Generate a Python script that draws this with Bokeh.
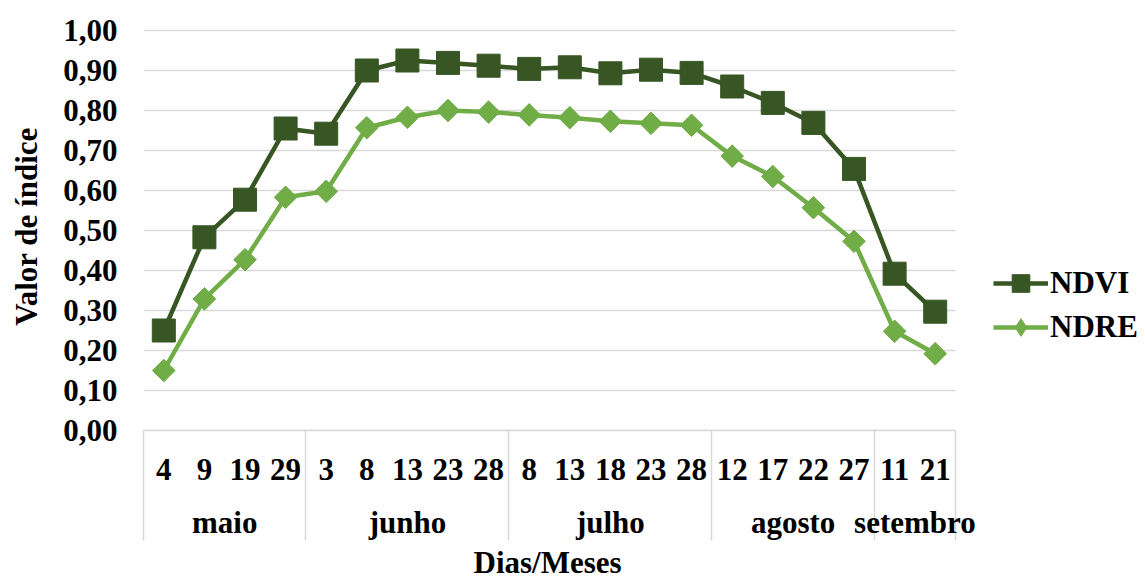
import numpy as np
from bokeh.plotting import figure
from bokeh.models import (Range1d, FixedTicker, LinearAxis, Legend, LegendItem,
                          ColumnDataSource)
from bokeh.embed import file_html
from bokeh.resources import INLINE

# ---- data ----
days = ["4", "9", "19", "29", "3", "8", "13", "23", "28", "8", "13", "18", "23", "28",
        "12", "17", "22", "27", "11", "21"]
day_months = ["maio", "maio", "maio", "maio",
              "junho", "junho", "junho", "junho", "junho",
              "julho", "julho", "julho", "julho", "julho",
              "agosto", "agosto", "agosto", "agosto",
              "setembro", "setembro"]
months = ["maio", "junho", "julho", "agosto", "setembro"]
ndvi = [0.250, 0.483, 0.577, 0.755, 0.742, 0.900, 0.925, 0.919, 0.912, 0.904,
        0.908, 0.893, 0.902, 0.894, 0.860, 0.819, 0.769, 0.654, 0.392, 0.297]
ndre = [0.150, 0.329, 0.427, 0.583, 0.598, 0.757, 0.783, 0.800, 0.796, 0.789,
        0.782, 0.773, 0.768, 0.763, 0.686, 0.635, 0.557, 0.473, 0.248, 0.192]
y_ticks = [0.0, 0.1, 0.2, 0.3, 0.4, 0.5, 0.6, 0.7, 0.8, 0.9, 1.0]
y_tick_labels = ["0,00", "0,10", "0,20", "0,30", "0,40", "0,50", "0,60", "0,70",
                 "0,80", "0,90", "1,00"]

# ---- positions derived from categories ----
n = len(days)
xpos = [i + 0.5 for i in range(n)]
month_centers = []
boundaries = []
for m in months:
    idx = [i for i, mm in enumerate(day_months) if mm == m]
    boundaries.append(float(idx[0]))
    month_centers.append((idx[0] + idx[-1] + 1) / 2.0)
boundaries.append(float(n))

DARK = "#375623"
LIGHT = "#70AD47"
GRID = "#d9d9d9"
FONT = "Liberation Serif"
FS = "31px"
SEP = 110

W, H = 1145, 579
LEFT, TOP, BOTTOM = 143, 22, 149
PLOT_W = 812          # width of the category area inside the frame
FRAME_W = W - LEFT

src = ColumnDataSource(dict(x=xpos, ndvi=ndvi, ndre=ndre))
grid_src = ColumnDataSource(dict(y=y_ticks, x0=[0.0] * len(y_ticks),
                                 x1=[float(n)] * len(y_ticks)))

p = figure(width=W, height=H, output_backend="svg", toolbar_location=None,
           x_range=Range1d(0, n * FRAME_W / PLOT_W), y_range=Range1d(0, 1.02),
           x_axis_type=None, y_axis_type=None,
           title="Dias/Meses", title_location="below",
           min_border_left=LEFT, min_border_right=0, min_border_top=TOP,
           min_border_bottom=BOTTOM)
p.outline_line_color = None
p.xgrid.visible = False
p.ygrid.visible = False
p.title.align = "left"
p.title.offset = 330
p.title.standoff = 0
p.title.text_font = FONT
p.title.text_font_size = FS
p.title.text_font_style = "bold"
p.title.text_color = "black"


def style_ticks(ax):
    ax.major_label_text_font = FONT
    ax.major_label_text_font_size = FS
    ax.major_label_text_font_style = "bold"
    ax.major_label_text_color = "black"


yaxis = LinearAxis(ticker=FixedTicker(ticks=y_ticks),
                   major_label_overrides=dict(zip(y_ticks, y_tick_labels)),
                   axis_label="Valor de índice",
                   axis_line_color=None, major_tick_line_color=None,
                   minor_tick_line_color=None, major_tick_out=0, major_tick_in=0,
                   minor_tick_out=0, major_label_standoff=26, axis_label_standoff=16)
style_ticks(yaxis)
yaxis.axis_label_text_font = FONT
yaxis.axis_label_text_font_size = FS
yaxis.axis_label_text_font_style = "bold"
yaxis.axis_label_text_color = "black"
p.add_layout(yaxis, "left")

# horizontal gridlines spanning the category area only
p.segment(x0="x0", y0="y", x1="x1", y1="y", source=grid_src, line_color=GRID,
          line_width=1.5, level="underlay")

day_axis = LinearAxis(ticker=FixedTicker(ticks=xpos, minor_ticks=boundaries),
                      major_label_overrides=dict(zip(xpos, days)),
                      bounds=(0, n),
                      axis_line_color=GRID, axis_line_width=1.5,
                      major_tick_line_color=None, major_tick_out=0, major_tick_in=0,
                      minor_tick_line_color=GRID, minor_tick_line_width=1.5,
                      minor_tick_in=0, minor_tick_out=SEP,
                      major_label_standoff=-82)
style_ticks(day_axis)
p.add_layout(day_axis, "below")

month_axis = LinearAxis(ticker=FixedTicker(ticks=month_centers),
                        major_label_overrides=dict(zip(month_centers, months)),
                        bounds=(0, n),
                        axis_line_color=None, major_tick_line_color=None,
                        minor_tick_line_color=None, major_tick_out=0, major_tick_in=0,
                        minor_tick_out=0, major_label_standoff=22)
style_ticks(month_axis)
p.add_layout(month_axis, "below")

l1 = p.line("x", "ndvi", source=src, line_color=DARK, line_width=4.5)
s1 = p.scatter("x", "ndvi", source=src, marker="square", size=23,
               fill_color=DARK, line_color=DARK)
l2 = p.line("x", "ndre", source=src, line_color=LIGHT, line_width=4.5)
# diamond glyph (hidden under the rotated squares) used for the legend swatch
s2_leg = p.scatter("x", "ndre", source=src, marker="diamond", size=16,
                   fill_color=LIGHT, line_color=LIGHT)
s2 = p.scatter("x", "ndre", source=src, marker="square", angle=np.pi / 4, size=16,
               fill_color=LIGHT, line_color=LIGHT)

legend = Legend(items=[LegendItem(label="NDVI", renderers=[l1, s1]),
                       LegendItem(label="NDRE", renderers=[l2, s2_leg])],
                location=(850, 81), orientation="vertical",
                border_line_color=None, background_fill_alpha=0,
                padding=0, margin=0, spacing=0,
                glyph_width=55, glyph_height=44, label_height=44,
                label_standoff=2)
legend.label_text_font = FONT
legend.label_text_font_size = FS
legend.label_text_font_style = "bold"
legend.label_text_color = "black"
p.add_layout(legend)

open("out.html", "w").write(file_html(p, INLINE))
